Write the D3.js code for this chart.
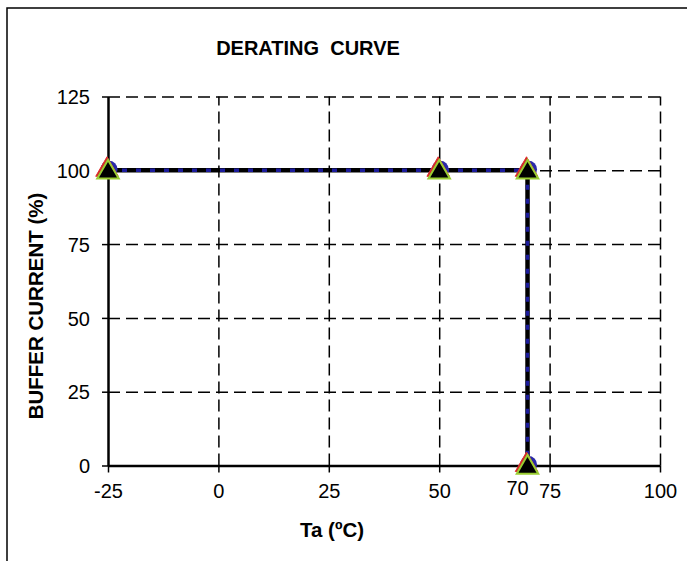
<!DOCTYPE html>
<html>
<head>
<meta charset="utf-8">
<script src="https://cdn.jsdelivr.net/npm/d3@7"></script>
<style>
  body { margin: 0; background: #fff; }
  svg text { font-family: "Liberation Sans", Arial, sans-serif; fill: #000; }
</style>
</head>
<body>
<svg id="drawing_region"></svg>
<script>
// derating curve points: ambient temperature (C) vs buffer current (%)
const temps = [-25, 50, 70, 70];
const current = [100, 100, 100, 0];
const xTicks = [-25, 0, 25, 50, 75, 100];
const yTicks = [0, 25, 50, 75, 100, 125];
const extraLabel = { value: 70, text: "70" };

const config = {
    width: 687,
    height: 561,
    margin: { top: 96.5, right: 27, bottom: 95, left: 108 }
};

const data = temps.map((t, i) => ({ x: t, y: current[i] }));

const svg = d3.select('#drawing_region')
    .attr('width', config.width)
    .attr('height', config.height);

// outer frame (right / bottom edges fall outside the picture)
svg.append('rect')
    .attr('x', 7).attr('y', 8)
    .attr('width', 700).attr('height', 600)
    .attr('fill', 'white')
    .attr('stroke', 'black')
    .attr('stroke-width', 1.5);

const inner_width = config.width - config.margin.left - config.margin.right;
const inner_height = config.height - config.margin.top - config.margin.bottom - 0.5;

const chart = svg.append('g')
    .attr('transform', `translate(${config.margin.left}, ${config.margin.top})`);

const xscale = d3.scaleLinear().domain([-25, 100]).range([0, inner_width]);
const yscale = d3.scaleLinear().domain([0, 125]).range([inner_height, 0]);

// dashed grid
chart.append('g')
    .attr('class', 'grid')
    .attr('transform', `translate(0, ${inner_height})`)
    .call(d3.axisBottom(xscale).tickValues(xTicks.slice(1)).tickSize(-inner_height).tickFormat(''))
    .call(g => g.select('.domain').remove());
chart.append('g')
    .attr('class', 'grid')
    .call(d3.axisLeft(yscale).tickValues(yTicks.slice(1)).tickSize(-inner_width).tickFormat(''))
    .call(g => g.select('.domain').remove());
chart.selectAll('.grid line')
    .attr('stroke', 'black')
    .attr('stroke-width', 1.5)
    .attr('stroke-dasharray', '12,6');

// axes
const xaxis_group = chart.append('g')
    .attr('transform', `translate(0, ${inner_height})`)
    .call(d3.axisBottom(xscale).tickValues(xTicks).tickSize(7).tickSizeOuter(0).tickPadding(11)
        .tickFormat(d => String(d)));
const yaxis_group = chart.append('g')
    .call(d3.axisLeft(yscale).tickValues(yTicks).tickSize(6).tickSizeOuter(0).tickPadding(12)
        .tickFormat(d => String(d)));

[xaxis_group, yaxis_group].forEach(g => {
    g.select('.domain').attr('stroke', 'black').attr('stroke-width', 2.5);
    g.selectAll('.tick line').attr('stroke', 'black').attr('stroke-width', 1.5);
    g.selectAll('.tick text').attr('font-size', '20px').attr('fill', 'black')
        .style('font-family', '"Liberation Sans", Arial, sans-serif');
});
yaxis_group.selectAll('.tick text').attr('dy', '0.36em');

// data line: thick black with blue dashes
const line = d3.line().x(d => xscale(d.x)).y(d => yscale(d.y));
chart.append('path')
    .datum(data)
    .attr('d', line)
    .attr('fill', 'none')
    .attr('stroke', 'black')
    .attr('stroke-width', 4.5);
chart.append('path')
    .datum(data)
    .attr('d', line)
    .attr('fill', 'none')
    .attr('stroke', '#1c1c9c')
    .attr('stroke-width', 3.5)
    .attr('stroke-dasharray', '5,9');

// stacked markers
const tri = d3.symbol().type(d3.symbolTriangle);
const pts = chart.append('g');
pts.selectAll('circle')
    .data(data)
    .enter()
    .append('circle')
    .attr('cx', d => xscale(d.x) + 1)
    .attr('cy', d => yscale(d.y) - 1)
    .attr('r', 8.5)
    .attr('fill', '#2a2aa8');
pts.selectAll('path.red')
    .data(data)
    .enter()
    .append('path')
    .attr('class', 'red')
    .attr('d', tri.size(220)())
    .attr('transform', d => `translate(${xscale(d.x) - 1}, ${yscale(d.y) - 0.5})`)
    .attr('fill', '#d02828')
    .attr('stroke', '#e03030')
    .attr('stroke-width', 1);
pts.selectAll('path.blk')
    .data(data)
    .enter()
    .append('path')
    .attr('class', 'blk')
    .attr('d', tri.size(200)())
    .attr('transform', d => `translate(${xscale(d.x)}, ${yscale(d.y) + 2})`)
    .attr('fill', 'black')
    .attr('stroke', '#9acd32')
    .attr('stroke-width', 2);

// "70" annotation
chart.append('text')
    .attr('x', xscale(extraLabel.value) - 10)
    .attr('y', inner_height + 29)
    .attr('text-anchor', 'middle')
    .attr('font-size', '20px')
    .text(extraLabel.text);

// titles
svg.append('text')
    .attr('x', 308)
    .attr('y', 55)
    .attr('text-anchor', 'middle')
    .attr('font-size', '20px')
    .attr('font-weight', 'bold')
    .style('white-space', 'pre')
    .text('DERATING  CURVE');

svg.append('text')
    .attr('x', 332)
    .attr('y', 537)
    .attr('text-anchor', 'middle')
    .attr('font-size', '20.5px')
    .attr('font-weight', 'bold')
    .text('Ta (ºC)');

svg.append('text')
    .attr('transform', 'translate(43, 306) rotate(-90)')
    .attr('text-anchor', 'middle')
    .attr('font-size', '20.5px')
    .attr('font-weight', 'bold')
    .text('BUFFER CURRENT (%)');
</script>
</body>
</html>
